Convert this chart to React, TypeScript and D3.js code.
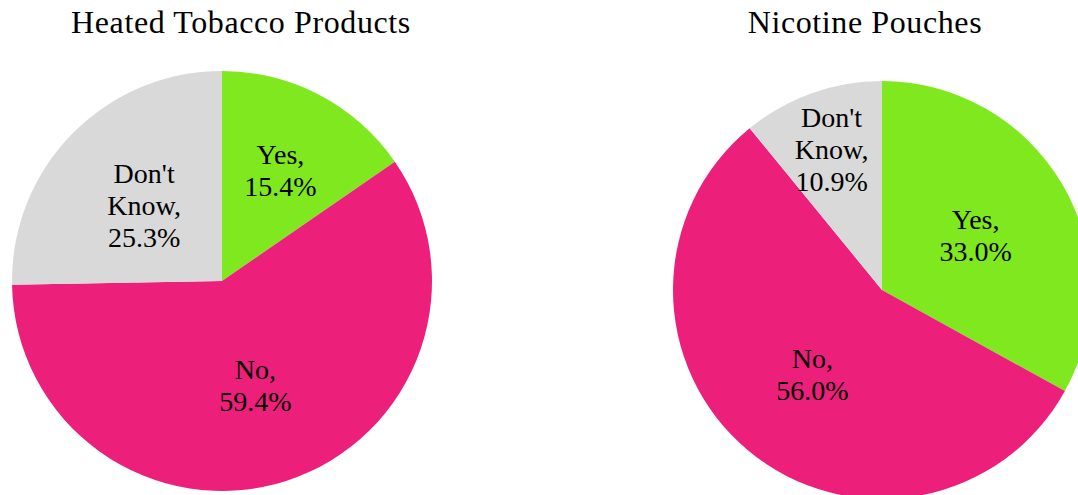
import React from "react";
import * as d3 from "d3";

const categories = ["Yes", "No", "Don't Know"];
const heatedTobacco = [15.4, 59.4, 25.3];
const nicotinePouches = [33.0, 56.0, 10.9];
const chartTitles = ["Heated Tobacco Products", "Nicotine Pouches"];
const colors = ["#7FE81F", "#EC1F7A", "#D9D9D9"];

const W = 1078;
const H = 495;
const FONT = "'Liberation Serif', 'Times New Roman', serif";

type PieProps = { values: number[]; title: string; cx: number; cy: number; r: number; titleX: number };

function Pie({ values, title, cx, cy, r, titleX }: PieProps) {
  const data = categories.map((c, i) => ({ c, v: values[i], color: colors[i] }));
  const pie = d3.pie<any>().sort(null).value((d: any) => d.v).startAngle(0).endAngle(2 * Math.PI);
  const arcs = pie(data);
  const arc = d3.arc<any>().innerRadius(0).outerRadius(r);
  const lineH = 32;
  return (
    <g>
      <text x={titleX} y={33} textAnchor="middle" fontFamily={FONT} fontSize={32} letterSpacing={0.6} fill="#000">
        {title}
      </text>
      <g transform={`translate(${cx},${cy})`}>
        {arcs.map((a, i) => (
          <path key={i} d={arc(a) || ""} fill={a.data.color} />
        ))}
        {arcs.map((a, i) => {
          const spanDeg = ((a.endAngle - a.startAngle) * 180) / Math.PI;
          const factor = Math.max(0.52, 0.31 + 16 / spanDeg);
          const la = d3.arc<any>().innerRadius(0).outerRadius(r * factor * 2);
          const [x, y] = la.centroid(a);
          const words = a.data.c === "Don't Know" ? ["Don't", "Know,"] : [a.data.c + ","];
          const lines = [...words, a.data.v.toFixed(1) + "%"];
          const y0 = y + 4 - ((lines.length - 1) * lineH) / 2;
          return (
            <text key={"t" + i} x={x} textAnchor="middle" fontFamily={FONT} fontSize={28} fill="#000">
              {lines.map((l, j) => (
                <tspan key={j} x={x} y={y0 + j * lineH} dominantBaseline="middle">
                  {l}
                </tspan>
              ))}
            </text>
          );
        })}
      </g>
    </g>
  );
}

export default function App() {
  return (
    <svg width={W} height={H} style={{ position: "absolute", left: 0, top: 0, background: "#fff" }}>
      <Pie values={heatedTobacco} title={chartTitles[0]} cx={222} cy={281} r={210} titleX={241} />
      <Pie values={nicotinePouches} title={chartTitles[1]} cx={882} cy={290} r={209} titleX={865} />
    </svg>
  );
}
